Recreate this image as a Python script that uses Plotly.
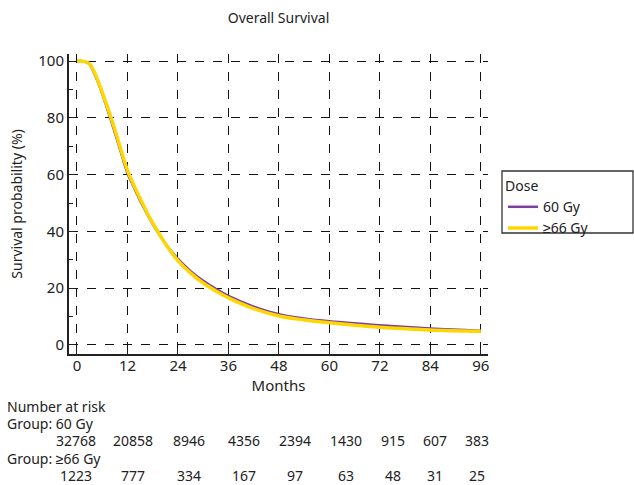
import plotly.graph_objects as go

months = [0, 1, 2, 3, 4, 5, 6, 8, 10, 12, 13, 14, 15, 16, 17, 18, 19, 20, 22, 24, 27, 30, 33, 36, 42, 48, 54, 60, 72, 84, 96]
surv_60 = [100, 100, 99.7, 98.8, 96, 92.5, 88.5, 79.5, 70, 60.5, 57.2, 54, 50.8, 48, 45.2, 42.6, 40.2, 37.9, 33.8, 30.3, 26, 22.6, 19.8, 17.3, 13.5, 10.8, 9.3, 8.3, 6.9, 5.8, 5.0]
surv_66 = [100, 100, 99.8, 99, 96.5, 93, 89, 80.5, 71, 61.5, 58, 54.8, 51.6, 48.6, 45.6, 43, 40.5, 38, 33.5, 29.7, 25.3, 21.8, 19, 16.6, 12.8, 10.2, 8.8, 7.8, 6.2, 5.3, 4.8]

risk_labels = ["Group: 60 Gy", "Group: \u226566 Gy"]
risk_60 = [32768, 20858, 8946, 4356, 2394, 1430, 915, 607, 383]
risk_66 = [1223, 777, 334, 167, 97, 63, 48, 31, 25]

FONT = "Noto Sans, sans-serif"

fig = go.Figure()
fig.add_trace(go.Scatter(x=months, y=surv_60, mode="lines", name="60 Gy",
                         line=dict(color="#7B3F9E", width=2.5, shape="spline", smoothing=1)))
fig.add_trace(go.Scatter(x=months, y=surv_66, mode="lines", name="\u226566 Gy",
                         line=dict(color="#FFD700", width=3.5, shape="spline", smoothing=1)))

W, H = 634, 485
L, R, T, B = 69, 146, 54, 131
pw, ph = W - L - R, H - T - B

def px_to_paper_x(px):
    return (px - L) / pw

def py_to_paper_y(py):
    return (H - B - py) / ph

annotations = []
annotations.append(dict(text="Number at risk", x=px_to_paper_x(5), y=py_to_paper_y(406),
                        xref="paper", yref="paper", xanchor="left", yanchor="middle",
                        showarrow=False, font=dict(size=14, color="#222", family=FONT)))
row_y = [(423, 440), (458, 475)]
centers = [76, 133, 189, 244, 295, 346, 393, 435, 477]
for lab, vals, (ly, ny) in zip(risk_labels, [risk_60, risk_66], row_y):
    annotations.append(dict(text=lab, x=px_to_paper_x(5), y=py_to_paper_y(ly),
                            xref="paper", yref="paper", xanchor="left", yanchor="middle",
                            showarrow=False, font=dict(size=14, color="#222", family=FONT)))
    for cx, v in zip(centers, vals):
        annotations.append(dict(text=str(v), x=px_to_paper_x(cx), y=py_to_paper_y(ny),
                                xref="paper", yref="paper", xanchor="center", yanchor="middle",
                                showarrow=False, font=dict(size=14, color="#222", family=FONT)))

fig.update_layout(
    width=W, height=H,
    margin=dict(l=L, r=R, t=T, b=B, autoexpand=False),
    paper_bgcolor="white", plot_bgcolor="white",
    font=dict(family=FONT, size=14, color="#222"),
    title=dict(text="Overall Survival", x=0.5, xanchor="center", xref="paper",
               y=1 - 18 / H, yanchor="middle", yref="container",
               font=dict(size=14, color="#222", family=FONT)),
    showlegend=True,
    legend=dict(title=dict(text="Dose", font=dict(size=14)), x=px_to_paper_x(503), y=py_to_paper_y(173),
                xanchor="left", yanchor="top", borderwidth=0,
                bgcolor="rgba(0,0,0,0)", font=dict(size=14), itemwidth=30, tracegroupgap=0),
    annotations=annotations,
    shapes=[dict(type="rect", xref="paper", yref="paper",
                 x0=px_to_paper_x(502), x1=px_to_paper_x(633),
                 y0=py_to_paper_y(233), y1=py_to_paper_y(171),
                 line=dict(color="#333", width=1.3), fillcolor="rgba(0,0,0,0)", layer="above")],
)
fig.update_xaxes(range=[-1.9, 97.7], tickvals=[0, 12, 24, 36, 48, 60, 72, 84, 96], automargin=False,
                 showline=True, linecolor="#222", linewidth=2, ticks="inside", ticklen=6,
                 tickcolor="#222", showgrid=True, gridcolor="#111", griddash="dash", gridwidth=1.3,
                 zeroline=False, title=dict(text="Months", standoff=0, font=dict(size=15)),
                 tickfont=dict(size=15), ticklabelstandoff=-3, mirror=False)
fig.update_yaxes(range=[-3.2, 102.5], tickvals=[0, 20, 40, 60, 80, 100], automargin=False,
                 showline=True, linecolor="#222", linewidth=2, ticks="inside", ticklen=6,
                 tickcolor="#222", showgrid=True, gridcolor="#111", griddash="dash", gridwidth=1.3,
                 zeroline=False, title=dict(text="Survival probability (%)", standoff=12, font=dict(size=14)),
                 tickfont=dict(size=15),
                 minor=dict(tickvals=[10, 30, 50, 70, 90], ticks="inside", ticklen=4, tickcolor="#222", showgrid=False))

fig.write_html("out.html", config={"displayModeBar": False},
               post_script="document.body.style.margin='0px';")
